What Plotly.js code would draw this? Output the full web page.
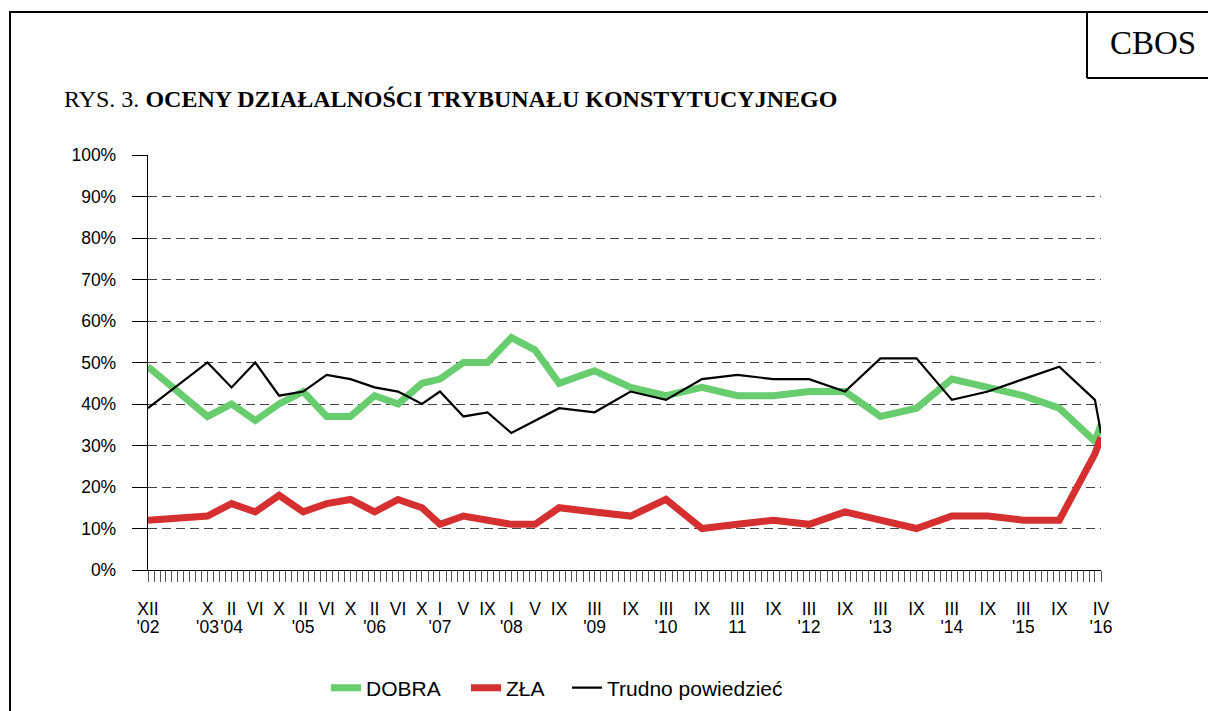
<!DOCTYPE html>
<html>
<head>
<meta charset="utf-8">
<script src="https://cdn.plot.ly/plotly-3.0.1.min.js"></script>
<style>
html,body{margin:0;padding:0;background:#fff;}
#chart{width:1208px;height:711px;}
</style>
</head>
<body>
<div id="chart"></div>
<script>
// ---- data ----
var surveyMonths = ['2002-12-01','2003-10-01','2004-02-01','2004-06-01','2004-10-01','2005-02-01','2005-06-01','2005-10-01','2006-02-01','2006-06-01','2006-10-01','2007-01-01','2007-05-01','2007-09-01','2008-01-01','2008-05-01','2008-09-01','2009-03-01','2009-09-01','2010-03-01','2010-09-01','2011-03-01','2011-09-01','2012-03-01','2012-09-01','2013-03-01','2013-09-01','2014-03-01','2014-09-01','2015-03-01','2015-09-01','2016-03-01','2016-04-01'];
var dobra  = [49,37,40,36,40,43,37,37,42,40,45,46,50,50,56,53,45,48,44,42,44,42,42,43,43,37,39,46,44,42,39,31,35];
var zla    = [12,13,16,14,18,14,16,17,14,17,15,11,13,12,11,11,15,14,13,17,10,11,12,11,14,12,10,13,13,12,12,28,32];
var trudno = [39,50,44,50,42,43,47,46,44,43,40,43,37,38,33,36,39,38,43,41,46,47,46,46,43,51,51,41,43,46,49,41,33];

// month labels (first line under the axis)
var tickMonths = ['2002-12-01','2003-10-01','2004-02-01','2004-06-01','2004-10-01','2005-02-01','2005-06-01','2005-10-01','2006-02-01','2006-06-01','2006-10-01','2007-01-01','2007-05-01','2007-09-01','2008-01-01','2008-05-01','2008-09-01','2009-03-01','2009-09-01','2010-03-01','2010-09-01','2011-03-01','2011-09-01','2012-03-01','2012-09-01','2013-03-01','2013-09-01','2014-03-01','2014-09-01','2015-03-01','2015-09-01','2016-04-01'];
var monthLabels = ['XII','X','II','VI','X','II','VI','X','II','VI','X','I','V','IX','I','V','IX','III','IX','III','IX','III','IX','III','IX','III','IX','III','IX','III','IX','IV'];
// year labels (second line)
var yearMonths = ['2002-12-01','2003-10-01','2004-02-01','2005-02-01','2006-02-01','2007-01-01','2008-01-01','2009-03-01','2010-03-01','2011-03-01','2012-03-01','2013-03-01','2014-03-01','2015-03-01','2016-04-01'];
var yearLabels = ["'02","'03","'04","'05","'06","'07","'08","'09","'10","11","'12","'13","'14","'15","'16"];

var yTicks = [0,10,20,30,40,50,60,70,80,90,100];
var yTickLabels = ['0%','10%','20%','30%','40%','50%','60%','70%','80%','90%','100%'];

var seriesNames = ['DOBRA','ZŁA','Trudno powiedzieć'];
var titlePrefix = 'RYS. 3. ';
var titleMain = 'OCENY DZIAŁALNOŚCI TRYBUNAŁU KONSTYTUCYJNEGO';
var sourceLabel = 'CBOS';

// ---- layout geometry ----
var W = 1208, H = 711;
var M = {l:148, r:107, t:155, b:141, autoexpand:false};
var PW = W - M.l - M.r, PH = H - M.t - M.b;
function px(x){ return (x - M.l) / PW; }
function py(y){ return (H - M.b - y) / PH; }

var GREEN = '#68CD6F', RED = '#D62F30', BLACK = '#000000';
var SANS = 'Liberation Sans, Arial, sans-serif';
var SERIF = 'Liberation Serif, Times New Roman, serif';

var traces = [
  {x: surveyMonths, y: dobra, name: seriesNames[0], type:'scatter', mode:'lines',
   line:{color:GREEN, width:7}, legend:'legend'},
  {x: surveyMonths, y: zla, name: seriesNames[1], type:'scatter', mode:'lines',
   line:{color:RED, width:7}, legend:'legend2'},
  {x: surveyMonths, y: trudno, name: seriesNames[2], type:'scatter', mode:'lines',
   line:{color:BLACK, width:2.2}, legend:'legend3'},
  // carrier for the year-label axis (not visible)
  {x: surveyMonths, y: trudno, xaxis:'x2', type:'scatter', mode:'lines',
   line:{color:'rgba(0,0,0,0)', width:0}, showlegend:false, hoverinfo:'skip'}
];

function lineShape(x0,y0,x1,y1,w){
  return {type:'line', xref:'paper', yref:'paper', x0:px(x0), y0:py(y0), x1:px(x1), y1:py(y1),
          line:{color:'#000', width:w}, layer:'above'};
}

var legendBase = {orientation:'h', xanchor:'left', yanchor:'middle', bgcolor:'rgba(0,0,0,0)',
  font:{family:SANS, size:21, color:'#000'}, itemwidth:30};

var tickFont = {family:SANS, size:17.5, color:'#000'};

var layout = {
  width: W, height: H,
  margin: M,
  paper_bgcolor:'#fff', plot_bgcolor:'#fff',
  showlegend: true,
  xaxis: {
    type:'date',
    range:['2002-12-01','2016-04-01'],
    tickvals: tickMonths,
    ticktext: monthLabels,
    tickangle: 0,
    ticks:'outside', ticklen:11, tickcolor:'#555', tickwidth:1,
    minor:{dtick:'M1', tick0:'2002-12-01', ticks:'outside', ticklen:11, tickcolor:'#555', tickwidth:1, showgrid:false},
    showgrid:false, zeroline:false,
    showline:true, linecolor:'#000', linewidth:1.3,
    tickfont: tickFont,
    ticklabelstandoff: 12,
    automargin:false,
    fixedrange:true
  },
  xaxis2: {
    type:'date',
    overlaying:'x', matches:'x', anchor:'y', side:'bottom',
    range:['2002-12-01','2016-04-01'],
    tickvals: yearMonths,
    ticktext: yearLabels,
    tickangle: 0,
    ticks:'outside', ticklen:11, tickcolor:'rgba(0,0,0,0)',
    showgrid:false, zeroline:false, showline:false,
    tickfont: tickFont,
    ticklabelstandoff: 30,
    automargin:false,
    fixedrange:true
  },
  yaxis: {
    range:[0,100],
    tickvals: yTicks,
    ticktext: yTickLabels,
    ticks:'outside', ticklen:15, tickcolor:'#000', tickwidth:1,
    showgrid:true, gridcolor:'#444', gridwidth:1, griddash:'9px,5px',
    zeroline:false,
    showline:true, linecolor:'#000', linewidth:1.3,
    tickfont: tickFont,
    ticklabelstandoff: 12,
    automargin:false,
    fixedrange:true
  },
  legend: Object.assign({}, legendBase, {x:px(326), y:py(688)}),
  legend2: Object.assign({}, legendBase, {x:px(466), y:py(688)}),
  legend3: Object.assign({}, legendBase, {x:px(567), y:py(688)}),
  annotations: [
    {xref:'paper', yref:'paper', x:px(62), y:py(99), xanchor:'left', yanchor:'middle', showarrow:false,
     text: titlePrefix + '<b>' + titleMain + '</b>',
     font:{family:SERIF, size:24, color:'#000'}},
    {xref:'paper', yref:'paper', x:px(1153), y:py(43), xanchor:'center', yanchor:'middle', showarrow:false,
     text: sourceLabel, font:{family:SERIF, size:33, color:'#000'}}
  ],
  shapes: [
    lineShape(10, 11, 10, 711, 2),
    lineShape(10, 12, 1210, 12, 2),
    lineShape(1087, 12, 1087, 78, 2),
    lineShape(1087, 78, 1210, 78, 2)
  ]
};

Plotly.newPlot('chart', traces, layout, {staticPlot:true, displayModeBar:false});
</script>
</body>
</html>
